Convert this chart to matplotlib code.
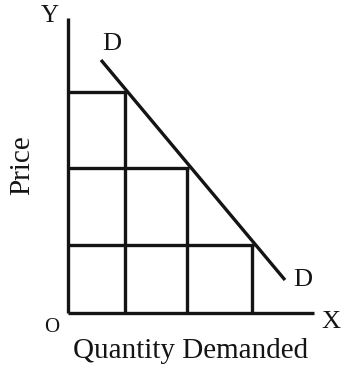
import matplotlib
matplotlib.use("Agg")
import matplotlib.pyplot as plt

# Price levels (top to bottom) and the quantities demanded at each price
price_levels = [22.1, 14.5, 6.8]
quantity_levels = [5.7, 11.9, 18.4]

# Demand curve end points
demand_q = [3.3, 21.7]
demand_p = [25.3, 3.3]

# Axis extents
x_axis_end = 24.6
y_axis_end = 29.5

W, H = 342, 375
fig = plt.figure(figsize=(W / 100, H / 100), dpi=100)
fig.patch.set_facecolor("white")

ox, oy = 68, 313  # origin in pixels
ax = fig.add_axes([ox / W, (H - oy) / H, (W - ox) / W, oy / H])
ax.set_xlim(0, (W - ox) / 10)
ax.set_ylim(0, oy / 10)
ax.axis("off")

lw = 2.4
col = "#141414"

# Axes
ax.plot([0, x_axis_end], [0, 0], color=col, lw=lw, solid_capstyle="butt", clip_on=False)
ax.plot([0, 0], [0, y_axis_end], color=col, lw=lw, solid_capstyle="butt", clip_on=False)

# Grid of price / quantity guide lines
for q, p in zip(quantity_levels, price_levels):
    ax.plot([0, q + 0.2], [p, p], color=col, lw=lw, solid_capstyle="butt")
    ax.plot([q, q], [0, p], color=col, lw=lw, solid_capstyle="butt")

# Demand curve
ax.plot(demand_q, demand_p, color=col, lw=lw, solid_capstyle="butt")

font = dict(family="Liberation Serif", color=col)
ax.text(-1.8, 29.7, "Y", fontsize=18, ha="center", va="center", clip_on=False, **font)
ax.text(4.4, 26.9, "D", fontsize=19, ha="center", va="center", **font)
ax.text(23.5, 3.3, "D", fontsize=19, ha="center", va="center", **font)
ax.text(26.3, -0.9, "X", fontsize=19, ha="center", va="center", clip_on=False, **font)
ax.text(-1.6, -1.5, "O", fontsize=15, ha="center", va="center", clip_on=False, **font)
ax.text(12.25, -3.8, "Quantity Demanded", fontsize=21, ha="center", va="center",
        clip_on=False, **font)
ax.text(-4.6, 14.8, "Price", fontsize=21, ha="center", va="center", rotation=90,
        clip_on=False, **font)

fig.savefig("out.png", dpi=100, facecolor="white")
